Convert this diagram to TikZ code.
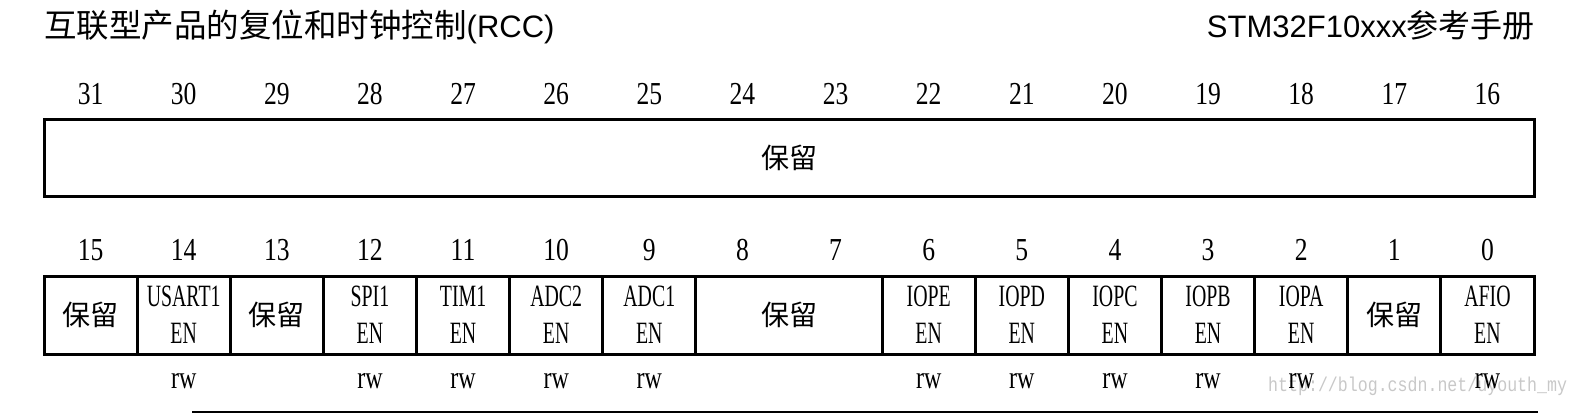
\documentclass[tikz,border=0pt]{standalone}
\usepackage{fontspec}
\newfontfamily\cjk{Noto Sans CJK SC}
\newfontfamily\sansf{Liberation Sans}
\newfontfamily\numf{Liberation Serif}[FakeStretch=0.8]
\newfontfamily\cellf{Liberation Serif}[FakeStretch=0.64]
\newfontfamily\rwf{Liberation Serif}[FakeStretch=0.75]
\newfontfamily\wmf{Liberation Mono}[FakeStretch=0.83]
\definecolor{wmgray}{RGB}{200,200,200}
\begin{document}
\begin{tikzpicture}[x=1pt,y=-1pt,
  bitnum/.style={font=\numf\fontsize{32}{32}\selectfont, inner sep=0pt, anchor=center},
  cell/.style={draw, line width=3pt, minimum height=78pt, minimum width=93.125pt, inner sep=0pt, align=center, font=\cellf\fontsize{31}{37}\selectfont},
  resv/.style={font=\cjk\fontsize{28}{28}\selectfont},
  access/.style={font=\rwf\fontsize{32}{32}\selectfont, inner sep=0pt},
  wmark/.style={font=\wmf\fontsize{20}{20}\selectfont, text=wmgray, inner sep=0pt, anchor=west}]
\useasboundingbox (0,0) rectangle (1581,415);
% titles
\node[anchor=base west, inner sep=0pt] (title) at (44,37) {{\cjk\fontsize{32.5}{33}\selectfont 互联型产品的复位和时钟控制}{\sansf\fontsize{31}{31}\selectfont (RCC)}};
\node[anchor=base east, inner sep=0pt] (manual) at (1535,37) {{\sansf\fontsize{31}{31}\selectfont STM32F10xxx}{\cjk\fontsize{32}{32}\selectfont 参考手册}};
% bit numbers
\foreach \b in {16,...,31} {\node[bitnum] (n\b) at ({44+(31.5-\b)*93.125},94) {\b};}
\foreach \b in {0,...,15} {\node[bitnum] (n\b) at ({44+(15.5-\b)*93.125},250) {\b};}
% upper register
\node[cell, resv, minimum width=1490pt, minimum height=77pt] (upper) at (789,157.5) {保留};
% lower register
\node[cell, resv] (b15) at (90.5625,315) {保留};
\node[cell] (b14) at (183.6875,315) {USART1\\EN};
\node[cell, resv] (b13) at (276.8125,315) {保留};
\node[cell] (b12) at (369.9375,315) {SPI1\\EN};
\node[cell] (b11) at (463.0625,315) {TIM1\\EN};
\node[cell] (b10) at (556.1875,315) {ADC2\\EN};
\node[cell] (b9) at (649.3125,315) {ADC1\\EN};
\node[cell, resv, minimum width=186.25pt] (b87) at (789,315) {保留};
\node[cell] (b6) at (928.6875,315) {IOPE\\EN};
\node[cell] (b5) at (1021.8125,315) {IOPD\\EN};
\node[cell] (b4) at (1114.9375,315) {IOPC\\EN};
\node[cell] (b3) at (1208.0625,315) {IOPB\\EN};
\node[cell] (b2) at (1301.1875,315) {IOPA\\EN};
\node[cell, resv] (b1) at (1394.3125,315) {保留};
\node[cell] (b0) at (1487.4375,315) {AFIO\\EN};
% watermark
\node[wmark] (wm) at (1268,386) {http://blog.csdn.net/uyouth\_my};
% access
\foreach \b in {14,12,11,10,9,6,5,4,3,2,0} {\node[access] (rw\b) at (b\b.center |- 0,381) {rw};}
% bottom rule
\coordinate (ls) at (192,412);
\coordinate (le) at (1538,412);
\draw[line width=2pt] (ls) -- (le);
\end{tikzpicture}
\end{document}
